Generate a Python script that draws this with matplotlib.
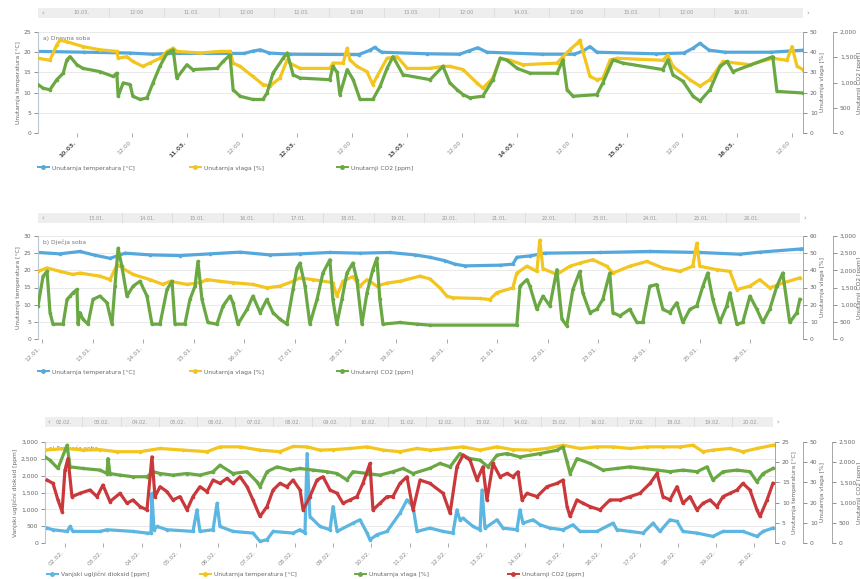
import matplotlib
matplotlib.use("Agg")
import matplotlib.pyplot as plt
from matplotlib.lines import Line2D
from matplotlib.ticker import FuncFormatter

BLUE = '#55a8dc'
YELLOW = '#f3c51f'
GREEN = '#6aa843'
RED = '#c9393b'

# ---- panel 1 (hours from start) ----
p1_temp_h = [0, 10, 20, 25, 30, 45, 47, 48.5, 50.5, 55, 70, 72.5, 73.5, 75, 85, 92, 94, 96, 98, 110,
             117, 119, 120.5, 122, 135, 141, 143, 144.5, 146.5, 150, 160, 167]
p1_temp = [20.2, 20.0, 19.8, 19.5, 19.7, 19.7, 20.3, 20.6, 19.8, 19.5, 19.4, 20.5, 21.2, 20.0, 19.6,
           19.5, 20.3, 21.1, 20.0, 19.5, 19.5, 20.3, 21.4, 20.0, 19.6, 19.8, 21.0, 22.2, 20.5, 20.0,
           20.0, 20.5]
p1_hum_h = [0, 2.6, 4.1, 4.8, 6.3, 9.8, 13.5, 17.2, 17.5, 19.4, 20.7, 22.9, 24.4, 26.6, 28.2, 29.5,
            30.3, 35.4, 39.7, 41.9, 42.6, 44.1, 46.9, 49.1, 50.6, 52.8, 54.4, 55, 57.2, 63.7, 64.4,
            66.6, 67.5, 68.1, 69.6, 71.8, 73.1, 74, 76.2, 78.4, 80.6, 85.6, 88.4, 89.9, 92.8, 95.8,
            97.1, 99.3, 100.9, 103, 105.9, 113.3, 114.6, 116.1, 117.7, 118.3, 119, 120.5, 122, 123.3,
            124.9, 126.4, 136.4, 137.5, 138.6, 142.3, 144.5, 146.7, 149.5, 155.4, 160.4, 163.5,
            164.6, 165.7, 167]
p1_hum = [37, 36, 43.6, 46, 45.2, 42.8, 41.2, 40.4, 37, 37.8, 35.4, 33, 34.6, 37, 40.4, 42, 40.4,
          39.6, 40.4, 40.4, 34.6, 33, 28, 24, 23.2, 27.2, 36.2, 34.6, 32, 32, 34.6, 34.6, 42, 36.2,
          33, 30.4, 24, 28, 37, 37.8, 32, 32, 33, 33, 31.4, 24.8, 22.2, 27.2, 37, 36, 33.8, 34.6,
          37.8, 41.2, 44.4, 46, 40, 28, 26.4, 27, 36.2, 37, 36, 38.6, 33, 26.4, 23.2, 26.4, 35.4,
          33.8, 37, 36, 42.8, 33, 31.4]
p1_co2_h = [0, 1.1, 2.6, 4.1, 5.5, 6.3, 7.0, 8.5, 9.8, 13.5, 16.4, 17.2, 17.5, 18.6, 20.1, 20.7,
            22.3, 23.8, 25.1, 26.6, 28.2, 29.5, 30.3, 32.5, 33.8, 39.1, 40.4, 41.9, 42.6, 44.1,
            46.9, 49.1, 50, 51.3, 53.5, 54.4, 55.7, 57.2, 63.7, 64.4, 65.3, 65.9, 67.5, 68.8, 70.3,
            73.1, 74.7, 76.2, 77.5, 79.7, 85.6, 88.4, 89.9, 91.5, 92.8, 94.3, 97.1, 99.3, 100.9,
            102.4, 104.6, 107.4, 113.3, 114.6, 115.5, 116.8, 122, 123.3, 125.5, 127.7, 136.4,
            137.5, 138.6, 140.8, 143, 144.5, 146.7, 148.9, 150.4, 151.7, 160.4, 161.3, 167]
p1_co2 = [960, 888, 856, 1056, 1184, 1448, 1512, 1352, 1280, 1216, 1120, 1184, 728, 992, 960, 728,
          664, 696, 992, 1320, 1584, 1648, 1088, 1352, 1256, 1280, 1416, 1544, 856, 728, 664, 664,
          792, 1184, 1480, 1584, 1152, 1088, 1056, 1320, 1200, 760, 1256, 1056, 664, 664, 928, 1280,
          1512, 1152, 1056, 1320, 992, 856, 760, 696, 728, 1056, 1480, 1440, 1280, 1184, 1184, 1448,
          856, 728, 760, 992, 1448, 1384, 1256, 1448, 1152, 1024, 728, 632, 856, 1320, 1416, 1216,
          1512, 824, 792]
p1_xlabels = ['10.03.', '12:00', '11.03.', '12:00', '12.03.', '12:00', '13.03.', '12:00',
              '14.03.', '12:00', '15.03.', '12:00', '16.03.', '12:00']

# ---- panel 2 ----
p2_temp_h = [0, 10.4, 19.9, 27, 34.2, 41.3, 53.1, 67.4, 81.6, 95.8, 110, 124.3, 138.5, 152.7, 166.9,
             178.8, 186, 193.1, 197.8, 202.6, 219.2, 225.3, 227.2, 233.4, 240.5, 266.6, 290.3, 314,
             333, 342.5, 361.5, 363]
p2_temp = [25.2, 24.8, 25.5, 24.4, 23.5, 25.0, 24.5, 24.3, 24.8, 25.3, 24.5, 24.8, 25.2, 25.0, 25.2,
           24.5, 23.8, 22.8, 21.8, 21.3, 21.5, 21.8, 23.8, 24.2, 25.0, 25.2, 25.5, 25.2, 24.7, 25.3,
           26.2, 26.3]
p2_hum_h = [0, 4.3, 10.4, 16.6, 19.9, 29.4, 34.2, 37.5, 45.1, 53.1, 59.3, 62.6, 70.7, 76.9, 80.2,
            86.3, 92.5, 102, 108.6, 114.8, 121, 124.3, 130.5, 139.9, 141.8, 144.7, 149.4, 152.7,
            156.1, 160.8, 165.6, 171.7, 181.2, 186, 190.7, 194, 196.9, 209.7, 214.4, 217.7, 225.3,
            227.2, 232, 236.7, 238.1, 239.6, 246.2, 252.4, 257.1, 263.3, 269.9, 272.8, 280.8, 288.9,
            296.5, 304.6, 310.7, 312.6, 314, 322.1, 328.3, 331.6, 337.8, 342.5, 347.2, 353.4, 361.5]
p2_hum = [39.4, 41.4, 39.4, 37.6, 38.4, 36.6, 34.6, 43.2, 37.6, 34.6, 31.8, 33.6, 31.8, 32.8, 34.6,
          33.6, 32.8, 31.8, 29.8, 30.8, 33.6, 35.6, 34.6, 32.8, 25, 33.6, 36.4, 30.8, 34.6, 30.8,
          32.6, 33.6, 36.6, 35, 29.8, 25, 24, 23.6, 23, 27, 29.8, 38.4, 42.4, 39.4, 57.6, 41, 37.6,
          42.4, 44.2, 46.2, 42.4, 38.4, 42.4, 45.2, 41.4, 39.4, 42.4, 55.8, 42.4, 40.4, 39.4, 28.8,
          30.8, 34.6, 29.8, 32.6, 35.6]
p2_co2_h = [0, 2.4, 4.3, 5.7, 7.1, 11.9, 13.8, 15.2, 16.6, 18.5, 19, 19.9, 21.3, 23.7, 26.1, 29.4,
            32.7, 35.1, 36.5, 38, 39.8, 42.2, 45.1, 48.4, 51.7, 54.1, 57.9, 61.2, 63.6, 65, 69.7,
            72.1, 74.5, 75.9, 77.8, 80.6, 84.9, 87.8, 91.1, 92.5, 94.9, 99.2, 102, 105.4, 108.6,
            111.5, 114.8, 118.1, 121, 122.9, 124.3, 126.7, 129, 132.4, 135.2, 138.5, 139.9, 141.8,
            144.2, 146.6, 149.4, 151.3, 153.7, 156.1, 158.9, 160.8, 162.2, 163.7, 171.7, 179.8, 186,
            227.2, 228.7, 232, 233.4, 236.7, 239.6, 242.9, 246.2, 248.6, 250.9, 253.8, 257.1, 258.5,
            261.9, 265.2, 268, 271.3, 272.8, 276.1, 280.8, 284.2, 287, 290.3, 293.6, 296.5, 299.8,
            303.1, 306, 309.3, 312.6, 315.5, 317.8, 320.2, 323.5, 326.8, 328.3, 331.6, 334.4, 337.8,
            341.1, 343.9, 347.2, 350.6, 353.4, 356.7, 360.1, 361.5]
p2_co2 = [962, 1827, 1971, 769, 433, 433, 1154, 1250, 1346, 1442, 433, 769, 577, 433, 1154, 1250,
          1058, 433, 1538, 2644, 2115, 1250, 1538, 1683, 1250, 433, 433, 1442, 1683, 433, 433, 1154,
          1538, 2260, 1154, 481, 433, 962, 1250, 1058, 433, 865, 1250, 769, 1154, 769, 577, 433,
          1442, 2067, 2212, 1538, 433, 1154, 1923, 2308, 1154, 433, 1154, 1923, 2212, 1731, 433,
          1346, 2019, 2356, 1154, 433, 481, 433, 404, 404, 1538, 1731, 1538, 865, 1250, 962, 2019,
          577, 385, 1442, 1971, 1346, 769, 865, 1154, 1923, 769, 673, 865, 481, 481, 1538, 1587,
          865, 769, 1058, 481, 865, 962, 1538, 1923, 1154, 481, 962, 1346, 433, 481, 1250, 865, 481,
          865, 1538, 1923, 481, 769, 1154]
p2_xlabels = ['12.01.', '13.01.', '14.01.', '15.01.', '16.01.', '17.01.', '18.01.', '19.01.',
              '20.01.', '21.01.', '22.01.', '23.01.', '24.01.', '25.01.', '26.01.']

# ---- panel 3 ----
p3_out_h = [1.3, 5, 13.8, 15.7, 17.5, 34.5, 38.8, 55.1, 63.9, 66.4, 67, 68.3, 70.2, 76.4, 92.7,
            95.2, 97.1, 105.3, 107.8, 109.6, 117.8, 130.3, 134.7, 139.1, 142.9, 155.4, 159.8, 162.9,
            164.2, 166, 172.3, 178.6, 180.5, 183, 193, 197.4, 201.8, 203.6, 208, 214.3, 222.4,
            226.8, 230.6, 233.1, 241.2, 249.4, 255.6, 258.1, 260, 261.9, 268.2, 272.6, 273.8, 275.7,
            283.2, 287, 295.7, 297.6, 299.5, 305.8, 310.2, 316.4, 324.6, 330.8, 335.2, 345.9, 355.9,
            358.4, 366.5, 374.7, 381, 385.3, 391.6, 396, 399.7, 408.5, 418.5, 424.8, 437.3, 446.1,
            449.9, 456.1]
p3_out = [443, 394, 344, 492, 344, 344, 394, 344, 295, 295, 1476, 394, 492, 394, 344, 984, 344,
          394, 1181, 492, 344, 295, 49, 98, 344, 295, 394, 295, 2657, 787, 492, 394, 1082, 344, 590,
          689, 295, 98, 246, 344, 886, 1279, 1082, 344, 443, 344, 295, 984, 689, 738, 492, 394, 1574,
          443, 689, 443, 394, 984, 590, 689, 541, 443, 394, 541, 344, 344, 590, 394, 344, 295, 590,
          344, 689, 640, 344, 295, 197, 344, 344, 197, 344, 443]
p3_temp_h = [0, 13.8, 23.8, 34.5, 45.1, 59.5, 72.1, 86.5, 101.5, 109.6, 122.2, 134.7, 147.2, 155.4,
             164.2, 172.3, 180.5, 191.1, 201.8, 211.8, 222.4, 233.1, 241.2, 251.9, 261.9, 272.6,
             283.2, 293.2, 303.9, 314.5, 324.6, 335.2, 345.9, 355.9, 366.5, 377.2, 387.2, 397.9,
             406, 412.3, 418.5, 429.2, 437.3, 446.1, 456.1, 457.4]
p3_temp = [23.0, 23.4, 23.0, 23.1, 22.6, 22.6, 23.4, 23.0, 22.6, 23.8, 23.8, 23.0, 22.6, 23.9, 23.8,
           23.0, 23.1, 23.4, 23.8, 23.0, 22.6, 23.4, 23.0, 23.4, 23.8, 23.0, 23.8, 23.1, 23.0, 23.4,
           24.2, 23.4, 23.8, 23.8, 23.4, 23.8, 23.8, 23.8, 24.2, 22.6, 23.0, 23.4, 22.6, 23.4, 24.2,
           24.2]
p3_hum_h = [0, 3.1, 8.1, 13.8, 15.7, 23.8, 34.5, 38.8, 39.5, 40.7, 47, 55.1, 63.9, 67.7, 72.1, 80.2,
            89, 97.1, 105.3, 109.6, 117.8, 126.6, 132.8, 134.7, 139.1, 145.4, 153.5, 159.8, 167.9,
            176.7, 183, 189.2, 193, 201.8, 209.9, 218, 224.3, 230.6, 241.2, 247.5, 253.8, 260,
            266.3, 272.6, 277.6, 283.2, 289.5, 297.6, 310.2, 320.8, 324.6, 327.1, 329, 333.3, 341.5,
            349.6, 358.4, 366.5, 374.7, 383.5, 391.6, 399.7, 408.5, 414.8, 418.5, 424.8, 433.6,
            441.7, 446.1, 449.9, 456.1]
p3_hum = [42.6, 41, 36.9, 48.4, 37.7, 36.9, 36.1, 34.4, 41.8, 34.4, 33.6, 32.8, 32.8, 35.3, 34.4,
          33.6, 34.4, 33.6, 35.3, 38.5, 34.4, 35.3, 30.3, 27.9, 35.3, 37.7, 36.1, 36.9, 36.1, 35.3,
          34.4, 31.2, 35.3, 34.4, 33.6, 35.3, 36.9, 34.4, 37.0, 39.4, 37.7, 44.3, 41.8, 41, 37.7,
          43.5, 44.3, 42.6, 44.3, 45.9, 47.6, 40.2, 34.4, 41.8, 39.4, 36.1, 36.9, 37.7, 36.9, 36.1,
          35.3, 36.1, 35.3, 37.7, 31.2, 35.3, 36.1, 35.3, 30.3, 34.4, 36.9]
p3_co2_h = [1.3, 5, 8.1, 10.7, 12.5, 14.4, 16.9, 21.9, 28.2, 32.6, 36.3, 40.7, 47, 51.4, 55.1, 59.5,
            63.9, 67, 68.9, 72.1, 76.4, 80.2, 84.6, 89, 92.7, 97.1, 101.5, 105.3, 109.6, 114, 117.8,
            122.2, 126.6, 130.3, 134.7, 139.1, 142.9, 147.2, 151.6, 155.4, 159.8, 161.7, 166, 170.4,
            174.2, 178.6, 183, 186.7, 191.1, 195.5, 199.2, 203.6, 205.5, 209.9, 214.3, 218, 222.4,
            226.8, 230.6, 235, 241.2, 249.4, 253.8, 258.1, 261.9, 266.3, 270.7, 274.4, 276.9, 280.7,
            285.1, 289.5, 293.2, 296.4, 298.9, 302, 308.3, 314.5, 320.8, 324.6, 327.1, 329, 333.3,
            337.1, 341.5, 347.7, 354, 360.3, 366.5, 372.8, 379.1, 383.5, 387.2, 391.6, 396, 399.7,
            404.1, 408.5, 412.3, 416.7, 421, 424.8, 429.2, 433.6, 437.3, 441.7, 446.1, 448, 452.4,
            456.1]
p3_co2 = [1558, 1476, 1066, 779, 1804, 2091, 1148, 1230, 1312, 1148, 1435, 1025, 1230, 984, 1066,
          902, 820, 2132, 1148, 1394, 1271, 1066, 1148, 820, 1148, 1394, 1271, 1558, 1476, 1599,
          1476, 1640, 1394, 1066, 656, 902, 1312, 1476, 1394, 1558, 1312, 820, 1148, 1558, 1640,
          1312, 1230, 984, 1066, 1148, 1476, 1968, 820, 984, 1148, 1148, 1476, 1640, 820, 1558, 1476,
          1230, 738, 1886, 2173, 2050, 1558, 1886, 1066, 1968, 1640, 1722, 1640, 1763, 1066, 1230,
          1148, 1394, 1476, 1558, 902, 656, 1066, 984, 902, 820, 1066, 1066, 1148, 1230, 1476, 1722,
          1148, 1066, 1394, 984, 1148, 820, 984, 1066, 902, 1148, 1230, 1312, 1476, 1312, 820, 656,
          1066, 1476]
p3_xlabels = ['02.02.', '03.02.', '04.02.', '05.02.', '06.02.', '07.02.', '08.02.', '09.02.',
              '10.02.', '11.02.', '12.02.', '13.02.', '14.02.', '15.02.', '16.02.', '17.02.',
              '18.02.', '19.02.', '20.02.']

L_TEMP = 'Unutarnja temperatura [°C]'
L_HUM = 'Unutarnja vlaga [%]'
L_CO2 = 'Unutarnji CO2 [ppm]'
L_OUT = 'Vanjski ugljični dioksid [ppm]'

W, H = 860, 579
fig = plt.figure(figsize=(8.6, 5.79), dpi=100)


def rect(x0, y0, x1, y1):
    return [x0 / W, 1 - y1 / H, (x1 - x0) / W, (y1 - y0) / H]


def thousands(v, pos):
    return f'{v:,.0f}'


def style_y(ax, lim, step, label, side='left', pad=0.0, comma=False, label_x=None):
    ax.set_ylim(0, lim)
    ax.set_yticks(range(0, lim + 1, step))
    if comma:
        ax.yaxis.set_major_formatter(FuncFormatter(thousands))
    ax.tick_params(axis='y', labelsize=4.3, colors='#666666', length=3, width=0.5, pad=2)
    ax.set_ylabel(label, fontsize=4.3, color='#666666', labelpad=2)
    if label_x is not None:
        ax.yaxis.set_label_coords(label_x, 0.5)
    for s in ['top', 'bottom']:
        ax.spines[s].set_visible(False)
    if side == 'left':
        ax.spines['right'].set_visible(False)
        ax.spines['left'].set_color('#b9c6d4')
        ax.spines['left'].set_linewidth(0.8)
    else:
        ax.spines['left'].set_visible(False)
        ax.spines['right'].set_position(('axes', 1 + pad))
        ax.spines['right'].set_color('#999999')
        ax.spines['right'].set_linewidth(0.6)


def make_panel(box, nav_box, xmax, ticks, labels, nav_pos, nav_labels, title, bold_alt=False):
    ax = fig.add_axes(rect(*box))
    ax.set_xlim(0, xmax)
    ax.set_xticks(ticks)
    ax.set_xticklabels(labels, rotation=45, ha='right', va='top')
    ax.tick_params(axis='x', labelsize=4.3, colors='#888888', length=3, width=0.5, pad=2)
    if bold_alt:
        for i, t in enumerate(ax.get_xticklabels()):
            if i % 2 == 0:
                t.set_fontweight('bold')
                t.set_color('#555555')
    ax.spines['bottom'].set_color('#aaaaaa')
    ax.spines['bottom'].set_linewidth(0.6)
    ax.grid(axis='y', color='#e6e6e6', linewidth=0.6)
    ax.set_axisbelow(True)
    ax.text(0.006, 0.965, title, transform=ax.transAxes, fontsize=4.3, color='#777777', va='top')

    nav = fig.add_axes(rect(*nav_box))
    nav.set_facecolor('#eeeeee')
    nav.set_xlim(0, xmax)
    nav.set_ylim(0, 1)
    nav.set_xticks([])
    nav.set_yticks([])
    for s in nav.spines.values():
        s.set_visible(False)
    for p, t in zip(nav_pos, nav_labels):
        nav.text(p, 0.5, t, fontsize=3.6, color='#999999', ha='center', va='center')
    for a, b in zip(nav_pos[:-1], nav_pos[1:]):
        nav.axvline((a + b) / 2, color='#dcdcdc', linewidth=0.6)
    nav.text(0.004, 0.5, '‹', transform=nav.transAxes, fontsize=5, color='#999999',
             ha='left', va='center')
    nav.text(1.004, 0.5, '›', transform=nav.transAxes, fontsize=5, color='#999999',
             ha='left', va='center')
    return ax


def legend_items(items, y):
    for x, color, label in items:
        h = Line2D([], [], color=color, lw=1.4, marker='o', ms=2.5)
        fig.legend(handles=[h], labels=[label], loc='center left',
                   bbox_to_anchor=(x / W, 1 - y / H), frameon=False, fontsize=4.3,
                   handlelength=1.8, handletextpad=0.6, borderaxespad=0, borderpad=0,
                   labelcolor='#666666')


LW = 2.3
MK = dict(marker='o', ms=1.6)

# ===== panel 1 =====
ticks1 = [8.5 + 12 * k for k in range(14)]
ax = make_panel((38, 32, 803, 133), (38, 8, 803, 18), 167, ticks1, p1_xlabels,
                [t + 1 for t in ticks1[:13]], p1_xlabels[:13], 'a) Dnevna soba', bold_alt=True)
style_y(ax, 25, 5, L_TEMP)
ax.plot(p1_temp_h, p1_temp, color=BLUE, lw=LW, **MK)
a2 = ax.twinx()
style_y(a2, 50, 10, L_HUM, side='right')
a2.plot(p1_hum_h, p1_hum, color=YELLOW, lw=LW, **MK)
a3 = ax.twinx()
style_y(a3, 2000, 500, L_CO2, side='right', pad=30 / 765, comma=True,
        label_x=(856.5 - 38) / 765)
a3.plot(p1_co2_h, p1_co2, color=GREEN, lw=LW, **MK)
legend_items([(38, BLUE, L_TEMP), (190, YELLOW, L_HUM), (337, GREEN, L_CO2)], 168)

# ===== panel 2 =====
ticks2 = [1.9 + 24 * k for k in range(15)]
ax = make_panel((38, 236, 803, 339), (38, 213, 800, 223), 363, ticks2, p2_xlabels,
                [t + 26 for t in ticks2[:14]], p2_xlabels[1:], 'b) Dječja soba')
style_y(ax, 30, 5, L_TEMP)
ax.plot(p2_temp_h, p2_temp, color=BLUE, lw=LW, **MK)
a2 = ax.twinx()
style_y(a2, 60, 10, L_HUM, side='right')
a2.plot(p2_hum_h, p2_hum, color=YELLOW, lw=LW, **MK)
a3 = ax.twinx()
style_y(a3, 3000, 500, L_CO2, side='right', pad=30 / 765, comma=True,
        label_x=(856.5 - 38) / 765)
a3.plot(p2_co2_h, p2_co2, color=GREEN, lw=LW, **MK)
legend_items([(38, BLUE, L_TEMP), (190, YELLOW, L_HUM), (337, GREEN, L_CO2)], 372)

# ===== panel 3 =====
ticks3 = [12.5 + 24 * k for k in range(19)]
ax = make_panel((45, 442, 775, 543), (45, 417, 773, 427), 457.4, ticks3, p3_xlabels,
                [t - 1 for t in ticks3], p3_xlabels, 'c) Spavaća soba')
style_y(ax, 3000, 500, L_OUT, comma=True)
ax.plot(p3_out_h, p3_out, color='#5bb6e2', lw=LW, **MK)
a2 = ax.twinx()
style_y(a2, 25, 5, L_TEMP, side='right')
a2.plot(p3_temp_h, p3_temp, color=YELLOW, lw=LW, **MK)
a3 = ax.twinx()
style_y(a3, 50, 10, L_HUM, side='right', pad=28 / 730)
a3.plot(p3_hum_h, p3_hum, color=GREEN, lw=LW, **MK)
a4 = ax.twinx()
style_y(a4, 2500, 500, L_CO2, side='right', pad=57 / 730, comma=True,
        label_x=(856.5 - 45) / 730)
a4.plot(p3_co2_h, p3_co2, color=RED, lw=LW, **MK)
legend_items([(47, '#5bb6e2', L_OUT), (200, YELLOW, L_TEMP), (355, GREEN, L_HUM),
              (508, RED, L_CO2)], 574)

fig.savefig('out.png', dpi=100)
